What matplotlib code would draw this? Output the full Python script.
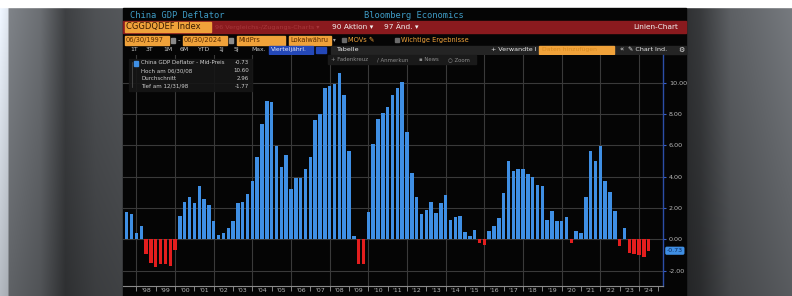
import numpy as np
import pandas as pd
import matplotlib
matplotlib.use("Agg")
import matplotlib.pyplot as plt
from matplotlib.patches import Rectangle

W, H = 792, 296

# ----- Data (China GDP deflator, YoY %, quarterly) -----
quarters = pd.period_range("1997Q2", "2024Q2", freq="Q")
deflator = [
    1.72, 1.60, 0.40, 0.85,
    -0.96, -1.53, -1.77, -1.60, -1.60, -1.70, -0.68,
    1.49, 2.36, 2.72, 2.32,
    3.43, 2.55, 2.19, 1.15,
    0.30, 0.43, 0.72, 1.15,
    2.30, 2.36, 2.91, 3.74,
    5.23, 7.34, 8.81, 8.74,
    5.98, 4.64, 5.38, 3.19,
    3.89, 3.89, 4.49, 5.26,
    7.60, 7.98, 9.64, 9.79,
    9.89, 10.60, 9.19, 5.66,
    0.23, -1.60, -1.60, 1.77,
    6.09, 7.66, 8.04, 8.43,
    9.19, 9.66, 10.02, 6.87,
    4.21, 2.72, 1.60, 1.89,
    2.40, 1.68, 2.34, 2.83,
    1.21, 1.45, 1.51, 0.45,
    0.23, 0.62, -0.26, -0.38,
    0.53, 0.85, 1.36, 2.98,
    5.00, 4.34, 4.51, 4.49,
    4.19, 3.98, 3.49, 3.43,
    1.21, 1.83, 1.17, 1.15,
    1.43, -0.23, 0.51, 0.40,
    2.72, 5.62, 5.00, 5.96,
    3.70, 3.02, 1.81, -0.40,
    0.70, -0.85, -0.96, -1.00,
    -1.10, -0.73,
]
y_ticks = [-2, 0, 2, 4, 6, 8, 10]
legend_labels = ["China GDP Deflator - Mid-Preis", "Hoch am 06/30/08", "Durchschnitt", "Tief am 12/31/98"]
legend_values = ["-0.73", "10.60", "2.96", "-1.77"]

BLUE = "#3f8fe4"
RED = "#e41e1e"
ORANGE = "#f0a23a"

fig = plt.figure(figsize=(W / 100, H / 100), dpi=100)

# ----- screenshot background (pixel coordinates) -----
bg = fig.add_axes([0, 0, 1, 1], zorder=0)
bg.set_xlim(0, W)
bg.set_ylim(H, 0)
bg.axis("off")

xs = np.arange(W)
stops_x = [0, 7, 9, 40, 65, 95, 123, 686, 700, 730, 792]
stops_g = [0.85, 0.80, 0.45, 0.38, 0.22, 0.28, 0.30, 0.17, 0.20, 0.33, 0.42]
prof = np.interp(xs, stops_x, stops_g)
ys = np.arange(H)[:, None]
shade = prof[None, :] * (1.15 - 0.3 * ys / H)
img = np.clip(np.dstack([shade * 0.97, shade * 1.0, shade * 1.04]), 0, 1)
bg.imshow(img, extent=(0, W, H, 0), aspect="auto", interpolation="bilinear")
bg.add_patch(Rectangle((0, 0), W, 7, color="white"))

# window
bg.add_patch(Rectangle((123, 8), 563, 288, color="#050505"))
mono = "DejaVu Sans Mono"
bg.text(130, 15.5, "China GDP Deflator", color="#3f9cc6", fontsize=6.3, family=mono, va="center")
bg.text(414, 15.5, "Bloomberg Economics", color="#3f9cc6", fontsize=6.3, family=mono, va="center", ha="center")

# red command row
bg.add_patch(Rectangle((123, 21), 563, 12, color="#8a1a1e"))
bg.add_patch(Rectangle((125, 22), 86, 10, color=ORANGE))
bg.text(126, 27, "CGGDQDEF Index", color="#3a1a00", fontsize=6, va="center")
bg.text(215, 27, "96 Vergleichs-/Zugangs-Charts ▾", color="#a8373a", fontsize=4.6, va="center")
bg.text(332, 27, "90 Aktion ▾", color="#f2f2f2", fontsize=5.3, va="center")
bg.text(384, 27, "97 Änd. ▾", color="#f2f2f2", fontsize=5.3, va="center")
bg.text(678, 27, "Linien-Chart", color="#f2f2f2", fontsize=5.3, va="center", ha="right")

# date / settings row
for x0, x1, txt in [(125, 169, "06/30/1997"), (183, 227, "06/30/2024"),
                    (237, 285, "MidPrs"), (289, 331, "Lokalwähru")]:
    bg.add_patch(Rectangle((x0, 35.5), x1 - x0, 9, color=ORANGE))
    bg.text(x0 + 1, 40, txt, color="#5a2c00", fontsize=4.8, va="center")
for x in (171, 229):
    bg.add_patch(Rectangle((x, 37.5), 4, 5, color="#8a8a8a"))
bg.text(178, 40, "-", color="#d0d0d0", fontsize=5, va="center")
bg.text(333, 40, "▾", color="#aaaaaa", fontsize=4, va="center")
bg.add_patch(Rectangle((342, 38), 3.5, 4, color="#6a6a6a"))
bg.text(348, 40, "MOVs ✎", color=ORANGE, fontsize=4.8, va="center")
bg.add_patch(Rectangle((395, 38), 3.5, 4, color="#6a6a6a"))
bg.text(401, 40, "Wichtige Ergebnisse", color=ORANGE, fontsize=4.8, va="center")

# range row
bg.add_patch(Rectangle((331, 45.5), 355, 8.5, color="#242424"))
for x, txt in [(130, "1T"), (146, "3T"), (163, "1M"), (180, "6M"), (198, "YTD"),
               (218, "1J"), (234, "5J"), (251, "Max.")]:
    bg.text(x, 49.8, txt, color="#c8c8c8", fontsize=4.4, va="center")
bg.add_patch(Rectangle((269, 45.5), 44, 8.5, color="#2448b8"))
bg.text(271, 49.8, "Vierteljährl.", color="#e8e8f8", fontsize=4.4, va="center")
bg.add_patch(Rectangle((316, 46.5), 10, 6.5, color="#2448b8"))
bg.text(336, 49.8, "Tabelle", color="#f0f0f0", fontsize=4.6, va="center")
bg.text(491, 49.8, "+ Verwandte I", color="#e8e8e8", fontsize=4.6, va="center")
bg.add_patch(Rectangle((539, 45.8), 75, 8, color=ORANGE))
bg.text(542, 49.8, "Daten hinzufügen", color="#d88a20", fontsize=4.4, va="center")
bg.text(619, 49.8, "«", color="#e8e8e8", fontsize=5, va="center")
bg.text(628, 49.8, "✎ Chart Ind.", color="#e8e8e8", fontsize=4.6, va="center")
bg.text(678, 49.8, "⚙", color="#e8e8e8", fontsize=5, va="center")

# ----- chart -----
px0, px1, py0, py1 = 122.5, 663.3, 55, 286
ax = fig.add_axes([px0 / W, 1 - py1 / H, (px1 - px0) / W, (py1 - py0) / H], zorder=1)
ax.set_facecolor("#050505")
idx = np.arange(len(quarters))
colors = [BLUE if v >= 0 else RED for v in deflator]
ax.bar(idx, deflator, width=0.70, color=colors, linewidth=0, zorder=3)

x_per_q = 4.833
x_first = 126.7
ax.set_xlim((px0 - x_first) / x_per_q, (px1 - x_first) / x_per_q)
ax.set_ylim((239.3 - py1) / 15.66, (239.3 - py0) / 15.66)

ax.set_yticks(y_ticks)
ax.set_yticklabels([f"{v:.2f}" for v in y_ticks])
ax.yaxis.tick_right()
ax.grid(axis="y", color="#3a3a3a", lw=0.8, zorder=1)
q4 = idx[quarters.quarter == 4]
odd_q4 = idx[(quarters.quarter == 4) & (quarters.year % 2 == 1)]
for x in odd_q4:
    ax.axvline(x, color="#3a3a3a", lw=0.8, zorder=1)

# label each full calendar year at its mid-point (Q2 bar)
full_year = (quarters.quarter == 2) & (quarters.year > quarters.year[0])
ax.set_xticks(idx[full_year])
ax.set_xticklabels([f"'{y % 100:02d}" for y in quarters.year[full_year]])
ax.set_xticks(np.arange(q4[0], ax.get_xlim()[1], 4), minor=True)
ax.tick_params(axis="x", which="major", length=0, labelsize=4.5, labelcolor="#b8b8b8", pad=1.5)
ax.tick_params(axis="x", which="minor", length=3.5, color="#9a9a9a", width=0.6)
ax.tick_params(axis="y", length=2.5, color="#3a60c8", labelsize=4.6, labelcolor="#b8b8b8", pad=1.5)

for s in ("left", "top"):
    ax.spines[s].set_visible(False)
ax.spines["right"].set_color("#2c4ea8")
ax.spines["right"].set_linewidth(1.0)
ax.spines["bottom"].set_color("#8a8a8a")
ax.spines["bottom"].set_linewidth(0.8)

last = deflator[-1]
ax.annotate(f"{last:.2f}", xy=(1.0, last), xycoords=("axes fraction", "data"),
            xytext=(2.5, 0), textcoords="offset points", ha="left", va="center",
            fontsize=4.5, color="#0b2a5a",
            bbox=dict(boxstyle="round,pad=0.25", fc="#3f8fe4", ec="none"))

# ----- overlays on chart -----
ov = fig.add_axes([0, 0, 1, 1], zorder=2)
ov.set_xlim(0, W)
ov.set_ylim(H, 0)
ov.axis("off")
ov.patch.set_alpha(0)

ov.add_patch(Rectangle((328, 55), 148, 9, color="#1a1a1a"))
for x, txt in [(331, "+ Fadenkreuz"), (377, "/ Anmerkun"), (419, "▪ News"), (448, "○ Zoom")]:
    ov.text(x, 59.5, txt, color="#8c8c8c", fontsize=3.9, va="center")

ov.add_patch(Rectangle((129, 59), 123, 32, color="#161616", alpha=0.9))
ov.add_patch(Rectangle((134, 60.5), 4, 5, color=BLUE))
ov.plot([131.5, 131.5], [62, 87], color="#555555", lw=0.5)
for i, (lab, val) in enumerate(zip(legend_labels, legend_values)):
    y = 63 + i * 7.7
    ov.text(141, y, lab, color="#d0d0d0", fontsize=4, va="center")
    ov.text(249, y, val, color="#d0d0d0", fontsize=4, va="center", ha="right")

fig.savefig("out.png", dpi=100, facecolor=fig.get_facecolor())
